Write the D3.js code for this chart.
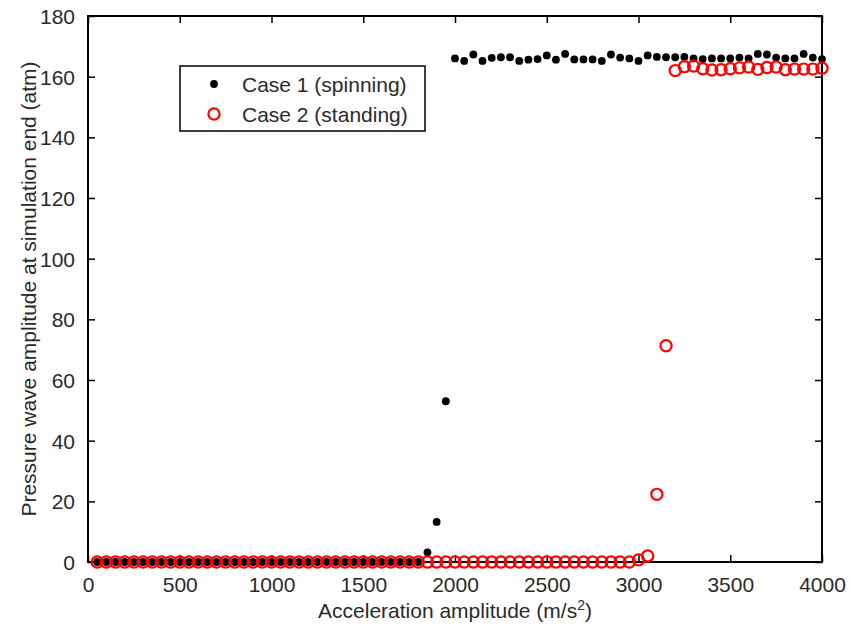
<!DOCTYPE html>
<html><head><meta charset="utf-8">
<script src="https://cdn.jsdelivr.net/npm/d3@7"></script>
<style>body{margin:0;background:#fff}svg{display:block}text{font-family:"Liberation Sans",Arial,Helvetica,sans-serif;fill:#2a2a2a}</style>
</head><body>
<script>
// Acceleration amplitude grid (m/s^2)
const accel = d3.range(50, 4001, 50);
// Case 1 (spinning): nonzero values from 1850 onward
const case1Tail = [3.2, 13.2, 53.0,
  166.0,165.2,167.3,165.2,166.2,166.4,166.4,165.2,165.6,165.8,167.0,165.6,167.5,165.7,165.7,165.7,165.2,167.3,166.3,166.0,
  165.2,167.0,166.5,166.4,166.4,166.5,166.0,165.8,166.0,166.0,166.0,166.3,166.0,167.5,167.3,166.3,166.0,166.0,167.5,166.3,165.8];
// Case 2 (standing): nonzero values from 3000 onward
const case2Tail = [0.7, 2.0, 22.3, 71.3,
  162.0,163.3,163.5,162.6,162.2,162.3,162.6,162.9,163.2,162.4,163.0,163.2,162.3,162.5,162.5,162.5,162.8];
const case1 = accel.map((a,i) => i >= accel.length - case1Tail.length ? case1Tail[i - (accel.length - case1Tail.length)] : 0);
const case2 = accel.map((a,i) => i >= accel.length - case2Tail.length ? case2Tail[i - (accel.length - case2Tail.length)] : 0);
const xTicks = [0,500,1000,1500,2000,2500,3000,3500,4000];
const yTicks = [0,20,40,60,80,100,120,140,160,180];
const legendLabels = ["Case 1 (spinning)", "Case 2 (standing)"];

const W = 850, H = 624;
const m = {l:88, r:822, t:16, b:562};
const svg = d3.select("body").append("svg").attr("width", W).attr("height", H);
const x = d3.scaleLinear().domain([0,4000]).range([m.l, m.r]);
const y = d3.scaleLinear().domain([0,180]).range([m.b, m.t]);
const fs = 21, tl = 7;

// axes with inward ticks
const gx = svg.append("g").attr("transform",`translate(0,${m.b})`)
  .call(d3.axisBottom(x).tickValues(xTicks).tickSize(-tl).tickPadding(15).tickFormat(d3.format("d")));
const gxt = svg.append("g").attr("transform",`translate(0,${m.t})`)
  .call(d3.axisTop(x).tickValues(xTicks).tickSize(-tl).tickFormat(""));
const gy = svg.append("g").attr("transform",`translate(${m.l},0)`)
  .call(d3.axisLeft(y).tickValues(yTicks).tickSize(-tl).tickPadding(13).tickFormat(d3.format("d")));
const gyr = svg.append("g").attr("transform",`translate(${m.r},0)`)
  .call(d3.axisRight(y).tickValues(yTicks).tickSize(-tl).tickFormat(""));
[gx,gxt,gy,gyr].forEach(g => {
  g.select(".domain").remove();
  g.selectAll(".tick line").attr("stroke","#000").attr("stroke-width",1.5);
  g.selectAll(".tick text").attr("font-size",fs).attr("fill","#2a2a2a")
   .style("font-family",'"Liberation Sans",Arial,sans-serif');
});
gx.selectAll(".tick text").attr("dy","0.71em");
gy.selectAll(".tick text").attr("dy","0.36em");
svg.append("rect").attr("x",m.l).attr("y",m.t).attr("width",m.r-m.l).attr("height",m.b-m.t)
  .attr("fill","none").attr("stroke","#000").attr("stroke-width",2);

// data
svg.append("g").selectAll("circle").data(accel).join("circle")
  .attr("cx", d => x(d)).attr("cy", (d,i) => y(case1[i])).attr("r",3.9).attr("fill","#000");
svg.append("g").selectAll("circle").data(accel).join("circle")
  .attr("cx", d => x(d)).attr("cy", (d,i) => y(case2[i])).attr("r",5.6)
  .attr("fill","none").attr("stroke","#ff0000").attr("stroke-width",2.2);

// labels
const xl = svg.append("text").attr("x",(m.l+m.r)/2).attr("y",618).attr("text-anchor","middle").attr("font-size",fs);
xl.append("tspan").text("Acceleration amplitude (m/s");
xl.append("tspan").attr("dy",-8).attr("font-size",14).text("2");
xl.append("tspan").attr("dy",8).text(")");
svg.append("text").attr("transform",`translate(36,${(m.t+m.b)/2}) rotate(-90)`).attr("text-anchor","middle")
  .attr("font-size",fs).text("Pressure wave amplitude at simulation end (atm)");

// legend
const lg = svg.append("g");
lg.append("rect").attr("x",180).attr("y",66).attr("width",245).attr("height",65)
  .attr("fill","#fff").attr("stroke","#000").attr("stroke-width",1.5);
lg.append("circle").attr("cx",214).attr("cy",84).attr("r",3.9).attr("fill","#000");
lg.append("circle").attr("cx",214).attr("cy",114).attr("r",5.6).attr("fill","none").attr("stroke","#ff0000").attr("stroke-width",2.2);
legendLabels.forEach((t,i) => lg.append("text").attr("x",242).attr("y",84+i*30).attr("dy","0.36em").attr("font-size",fs).text(t));
</script>
</body></html>
